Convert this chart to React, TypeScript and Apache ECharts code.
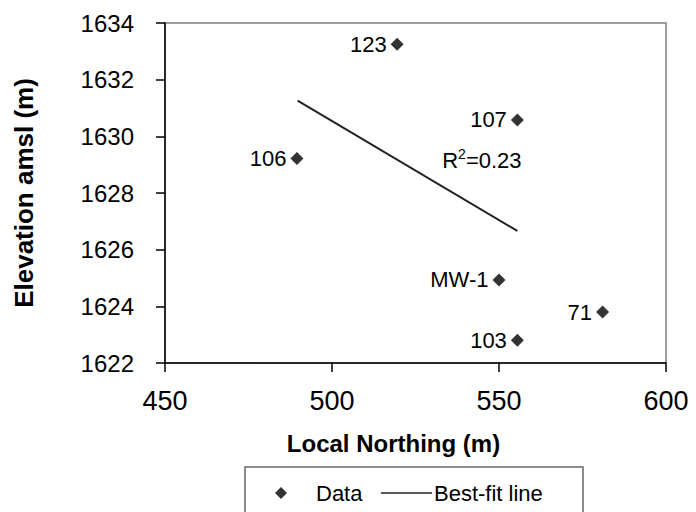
import React, { useEffect, useRef } from "react";
import * as echarts from "echarts";

const wellLabels = ["123", "107", "106", "MW-1", "71", "103"];
const northing = [519.5, 555.5, 489.5, 550, 581, 555.5];
const elevation = [1633.25, 1630.58, 1629.22, 1624.93, 1623.8, 1622.8];
const fitNorthing = [489.7, 555.5];
const fitElevation = [1631.26, 1626.66];
const xTicks = { min: 450, max: 600, interval: 50 };
const yTicks = { min: 1622, max: 1634, interval: 2 };
const r2Text = { northing: 533, elevation: 1629.15, value: "0.23" };

const FONT = "Liberation Sans, Arial, sans-serif";

export default function App() {
  const ref = useRef<HTMLDivElement>(null);
  useEffect(() => {
    if (!ref.current) return;
    const chart = echarts.init(ref.current, null, { renderer: "svg" });
    const points = northing.map((n, i) => ({ value: [n, elevation[i]], name: wellLabels[i] }));
    const fit = fitNorthing.map((n, i) => [n, fitElevation[i]]);
    chart.setOption({
      animation: false,
      backgroundColor: "#ffffff",
      textStyle: { fontFamily: FONT },
      grid: {
        left: 165,
        right: 30,
        top: 23,
        bottom: 149,
        show: true,
        borderColor: "#808080",
        borderWidth: 1.5,
      },
      xAxis: {
        type: "value",
        min: xTicks.min,
        max: xTicks.max,
        interval: xTicks.interval,
        name: "Local Northing (m)",
        nameLocation: "middle",
        nameGap: 68,
        nameTextStyle: { fontSize: 24, fontWeight: "bold", color: "#000", fontFamily: FONT, padding: [0, 44, 0, 0] },
        axisLine: { show: true, lineStyle: { color: "#000", width: 1.5 } },
        axisTick: { show: true, length: 9, lineStyle: { color: "#000", width: 1.5 } },
        axisLabel: { fontSize: 27, color: "#000", margin: 24, fontFamily: FONT },
        splitLine: { show: false },
      },
      yAxis: {
        type: "value",
        min: yTicks.min,
        max: yTicks.max,
        interval: yTicks.interval,
        name: "Elevation amsl (m)",
        nameLocation: "middle",
        nameGap: 128,
        nameRotate: 90,
        nameTextStyle: { fontSize: 26, fontWeight: "bold", color: "#000", fontFamily: FONT },
        axisLine: { show: true, lineStyle: { color: "#000", width: 1.5 } },
        axisTick: { show: true, length: 9, lineStyle: { color: "#000", width: 1.5 } },
        axisLabel: {
          fontSize: 24,
          color: "#000",
          margin: 31,
          fontFamily: FONT,
          formatter: (v: number) => String(v),
        },
        splitLine: { show: false },
      },
      legend: [
        {
          data: [{ name: "Data", icon: "diamond" }],
          left: 275,
          top: 482,
          padding: 0,
          itemWidth: 12,
          itemHeight: 12,
          selectedMode: false,
          itemStyle: { color: "#333333", opacity: 1 },
          textStyle: { fontSize: 22, color: "#000", fontFamily: FONT, padding: [0, 0, 0, 24] },
        },
        {
          data: [{ name: "Best-fit line", icon: "rect" }],
          left: 381,
          top: 482,
          padding: 0,
          itemWidth: 51,
          itemHeight: 1.5,
          selectedMode: false,
          itemStyle: { color: "#222222", borderWidth: 0 },
          textStyle: { fontSize: 22, color: "#000", fontFamily: FONT, padding: [0, 0, 0, -3] },
        },
      ],
      graphic: [
        {
          type: "rect",
          shape: { x: 245, y: 467, width: 338, height: 60 },
          style: { fill: "none", stroke: "#666", lineWidth: 1.5 },
          z: -1,
        },
      ],
      series: [
        {
          name: "Data",
          type: "scatter",
          symbol: "diamond",
          symbolSize: 13,
          itemStyle: { color: "#333333", opacity: 1 },
          data: points,
          label: {
            show: true,
            position: "left",
            distance: 4,
            formatter: (p: any) => p.name,
            fontSize: 22,
            color: "#000",
            fontFamily: FONT,
          },
          z: 3,
        },
        {
          name: "Best-fit line",
          type: "line",
          symbol: "none",
          data: fit,
          itemStyle: { color: "#222222" },
          lineStyle: { color: "#222", width: 2 },
          markPoint: {
            symbol: "circle",
            symbolSize: 0,
            data: [{ coord: [r2Text.northing, r2Text.elevation] }],
            label: {
              show: true,
              position: "right",
              distance: 0,
              formatter: "{a|R}{b|2}{a|=" + r2Text.value + "}",
              rich: {
                a: { fontSize: 22, color: "#000", fontFamily: FONT, lineHeight: 26 },
                b: { fontSize: 14, color: "#000", fontFamily: FONT, lineHeight: 16, verticalAlign: "top" },
              },
            },
          },
        },
      ],
    });
    return () => chart.dispose();
  }, []);
  return <div ref={ref} style={{ position: "fixed", left: 0, top: 0, width: 696, height: 512 }} />;
}
